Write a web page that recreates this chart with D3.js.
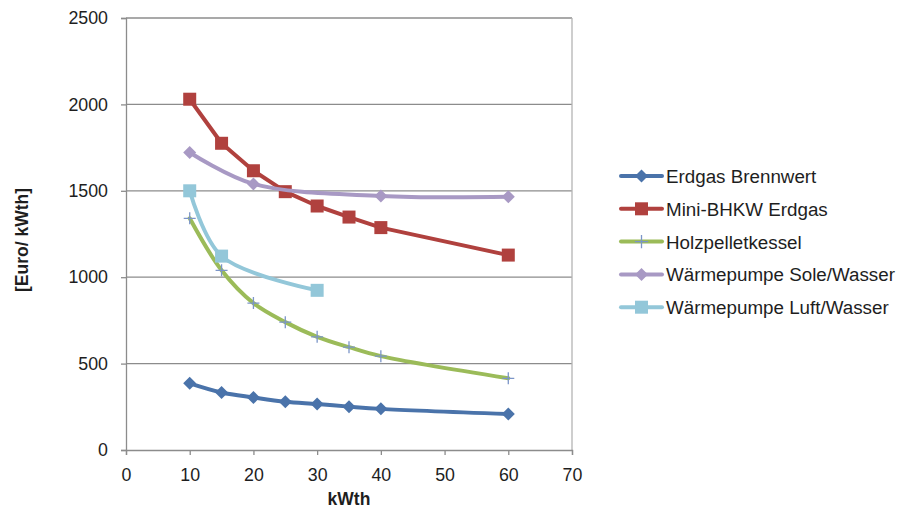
<!DOCTYPE html>
<html>
<head>
<meta charset="utf-8">
<script src="https://cdn.jsdelivr.net/npm/d3@7"></script>
<style>
  html, body { margin: 0; padding: 0; background: #fff; }
  svg { display: block; font-family: "Liberation Sans", Arial, sans-serif; }
</style>
</head>
<body>
<svg id="chart" width="899" height="510"></svg>
<script>
// Investment cost per kW of heating output, by system type
const xTicks = [0, 10, 20, 30, 40, 50, 60, 70];
const yTicks = [0, 500, 1000, 1500, 2000, 2500];

const erdgasX = [10, 15, 20, 25, 30, 35, 40, 60];
const erdgasY = [386, 333, 304, 279, 266, 251, 238, 208];

const bhkwX = [10, 15, 20, 25, 30, 35, 40, 60];
const bhkwY = [2030, 1775, 1616, 1495, 1412, 1348, 1287, 1128];

const holzX = [10, 15, 20, 25, 30, 35, 40, 60];
const holzY = [1341, 1040, 850, 740, 655, 595, 543, 415];

const soleX = [10, 20, 40, 60];
const soleY = [1722, 1540, 1470, 1465];

const luftX = [10, 15, 30];
const luftY = [1500, 1122, 924];

const seriesNames = ["Erdgas Brennwert", "Mini-BHKW Erdgas", "Holzpelletkessel",
                     "Wärmepumpe Sole/Wasser", "Wärmepumpe Luft/Wasser"];

const series = [
  { name: seriesNames[0], xs: erdgasX, ys: erdgasY, color: "#4A73AA", marker: "diamond", smooth: true },
  { name: seriesNames[1], xs: bhkwX,   ys: bhkwY,   color: "#B0413E", marker: "square",  smooth: false },
  { name: seriesNames[2], xs: holzX,   ys: holzY,   color: "#9BBB59", marker: "plus",    smooth: true },
  { name: seriesNames[3], xs: soleX,   ys: soleY,   color: "#A899C4", marker: "diamond", smooth: true },
  { name: seriesNames[4], xs: luftX,   ys: luftY,   color: "#93C7D9", marker: "square",  smooth: true }
];

const svg = d3.select("#chart");
const plotLeft = 126, plotRight = 572, plotTop = 18, plotBottom = 450;

const x = d3.scaleLinear().domain([0, 70]).range([plotLeft, plotRight]);
const y = d3.scaleLinear().domain([0, 2500]).range([plotBottom, plotTop]);

const gridColor = "#8c8c8c";
const textColor = "#1e1e1e";

// horizontal gridlines
svg.append("g").selectAll("line").data(yTicks.slice(1)).join("line")
  .attr("x1", plotLeft).attr("x2", plotRight)
  .attr("y1", d => y(d)).attr("y2", d => y(d))
  .attr("stroke", gridColor).attr("stroke-width", 1.3);

// right border of plot area
svg.append("line").attr("x1", plotRight).attr("x2", plotRight).attr("y1", plotTop).attr("y2", plotBottom)
  .attr("stroke", "#b4b4b4").attr("stroke-width", 1.3);

// axes
const yAxis = d3.axisLeft(y).tickValues(yTicks).tickSize(5).tickPadding(13).tickFormat(d3.format("d"));
const xAxis = d3.axisBottom(x).tickValues(xTicks).tickSize(5).tickPadding(13).tickFormat(d3.format("d"));

const gy = svg.append("g").attr("transform", `translate(${plotLeft},0)`).call(yAxis);
const gx = svg.append("g").attr("transform", `translate(0,${plotBottom})`).call(xAxis);
[gx, gy].forEach(g => {
  g.select(".domain").attr("stroke", gridColor).attr("stroke-width", 1.3);
  g.selectAll(".tick line").attr("stroke", gridColor).attr("stroke-width", 1.3);
  g.selectAll(".tick text").attr("fill", textColor).attr("font-size", 17.8)
    .attr("font-family", "Liberation Sans, Arial, sans-serif");
});

// axis titles
svg.append("text").attr("x", (plotLeft + plotRight) / 2).attr("y", 505)
  .attr("text-anchor", "middle").attr("font-weight", "bold").attr("font-size", 17.5)
  .attr("fill", textColor).text("kWth");
svg.append("text").attr("transform", "translate(28,240) rotate(-90)")
  .attr("text-anchor", "middle").attr("font-weight", "bold").attr("font-size", 17.5)
  .attr("fill", textColor).text("[Euro/ kWth]");

// marker drawing
function drawMarker(g, type, cx, cy, color, scale) {
  const s = scale || 1;
  if (type === "square") {
    const h = 6.5 * s;
    g.append("rect").attr("x", cx - h).attr("y", cy - h).attr("width", 2 * h).attr("height", 2 * h)
      .attr("fill", color);
  } else if (type === "diamond") {
    const h = 6.5 * s;
    g.append("path").attr("d", `M${cx},${cy - h}L${cx + h},${cy}L${cx},${cy + h}L${cx - h},${cy}Z`)
      .attr("fill", color);
  } else if (type === "plus") {
    const h = 6 * s;
    g.append("path").attr("d", `M${cx - h},${cy}H${cx + h}M${cx},${cy - h}V${cy + h}`)
      .attr("stroke", "#7B95C8").attr("stroke-width", 1.3).attr("fill", "none");
  }
}

const plot = svg.append("g");
series.forEach(s => {
  const pts = s.xs.map((v, i) => [v, s.ys[i]]);
  const line = d3.line().x(d => x(d[0])).y(d => y(d[1]))
    .curve(s.smooth ? d3.curveCatmullRom.alpha(0.5) : d3.curveLinear);
  plot.append("path").datum(pts).attr("d", line)
    .attr("fill", "none").attr("stroke", s.color).attr("stroke-width", 4)
    .attr("stroke-linejoin", "round").attr("stroke-linecap", "round");
  const mg = plot.append("g");
  pts.forEach(p => drawMarker(mg, s.marker, x(p[0]), y(p[1]), s.color));
});

// legend
const legend = svg.append("g");
series.forEach((s, i) => {
  const ly = 176 + i * 32.8;
  legend.append("line").attr("x1", 621).attr("x2", 662).attr("y1", ly).attr("y2", ly)
    .attr("stroke", s.color).attr("stroke-width", 4).attr("stroke-linecap", "round");
  drawMarker(legend, s.marker, 641.5, ly, s.color, s.marker === "plus" ? 1.1 : 1);
  legend.append("text").attr("x", 666).attr("y", ly + 7).attr("font-size", 18.8)
    .attr("fill", textColor).text(s.name);
});
</script>
</body>
</html>
